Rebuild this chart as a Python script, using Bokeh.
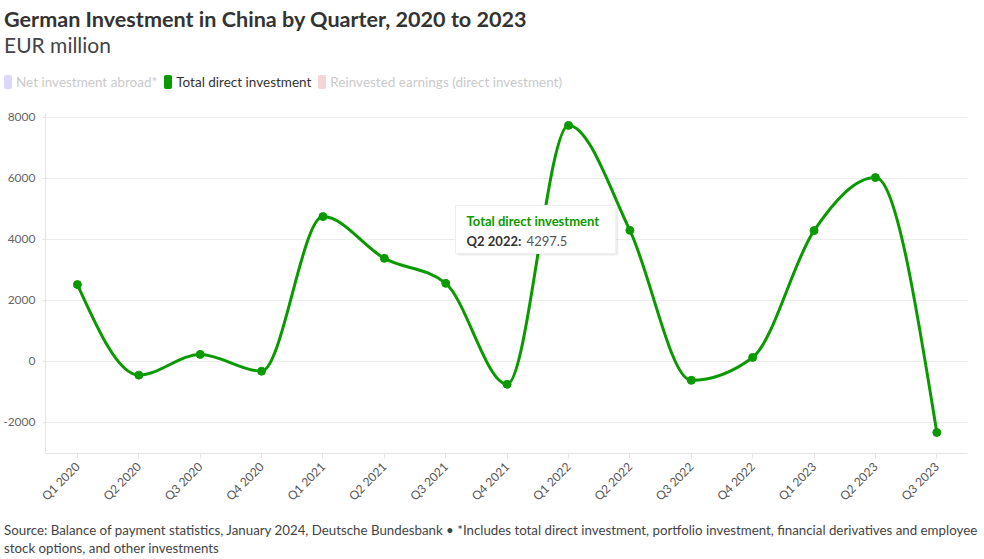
import numpy as np
from bokeh.plotting import figure
from bokeh.models import ColumnDataSource, Range1d, FixedTicker, Div
from bokeh.layouts import column
from bokeh.core.properties import value
from bokeh.embed import file_html
from bokeh.resources import INLINE

# ---------------- data ----------------
quarters = ["Q1 2020", "Q2 2020", "Q3 2020", "Q4 2020",
            "Q1 2021", "Q2 2021", "Q3 2021", "Q4 2021",
            "Q1 2022", "Q2 2022", "Q3 2022", "Q4 2022",
            "Q1 2023", "Q2 2023", "Q3 2023"]
total_direct = [2520, -450, 230, -320,
                4750, 3380, 2560, -750,
                7740, 4297.5, -620, 130,
                4290, 6030, -2330]
y_ticks = [-2000, 0, 2000, 4000, 6000, 8000]
y_tick_labels = ["-2000", "0", "2000", "4000", "6000", "8000"]
legend_labels = ["Net investment abroad*", "Total direct investment",
                 "Reinvested earnings (direct investment)"]
title_text = "German Investment in China by Quarter, 2020 to 2023"
subtitle_text = "EUR million"
footer_line1 = ("Source: Balance of payment statistics, January 2024, Deutsche Bundesbank \u2022 "
                "*Includes total direct investment, portfolio investment, financial derivatives and employee")
footer_line2 = "stock options, and other investments"
tooltip_quarter = "Q2 2022"
tooltip_value = "4297.5"

GREEN = "#0a9a00"
FONT = "Lato"
W = 980

xs = np.arange(len(quarters), dtype=float)
ys = np.array(total_direct, dtype=float)

# monotone-x cubic (like d3.curveMonotoneX) -> bezier control points
n = len(xs)
h = np.diff(xs)
s = np.diff(ys) / h
t = np.zeros(n)
for i in range(1, n - 1):
    s0, s1 = s[i - 1], s[i]
    pp = (s0 * h[i] + s1 * h[i - 1]) / (h[i - 1] + h[i])
    t[i] = (np.sign(s0) + np.sign(s1)) * min(abs(s0), abs(s1), 0.5 * abs(pp))
t[0] = (3 * s[0] - t[1]) / 2
t[-1] = (3 * s[-1] - t[-2]) / 2
bz = ColumnDataSource(dict(
    x0=xs[:-1], y0=ys[:-1], x1=xs[1:], y1=ys[1:],
    cx0=xs[:-1] + h / 3, cy0=ys[:-1] + h * t[:-1] / 3,
    cx1=xs[1:] - h / 3, cy1=ys[1:] - h * t[1:] / 3,
))
pts = ColumnDataSource(dict(x=xs, y=ys))

# ---------------- header (title, subtitle, legend) ----------------
def swatch(color):
    return (f'<span style="display:inline-block;width:8px;height:14px;border-radius:2px;'
            f'background:{color};vertical-align:-2px;margin-right:4px;"></span>')

header_html = (
    f'<div style="font-family:{FONT};color:#333333;padding:6px 0 0 4px;">'
    f'<div style="font-size:21.6px;font-weight:bold;line-height:26px;white-space:nowrap;">{title_text}</div>'
    f'<div style="font-size:21px;line-height:26px;color:#444444;">{subtitle_text}</div>'
    f'<div style="margin-top:16px;font-size:13.5px;line-height:16px;white-space:nowrap;">'
    f'{swatch("#dcd8f8")}<span style="color:#cacaca;">{legend_labels[0]}</span>'
    f'<span style="display:inline-block;width:7px;"></span>'
    f'{swatch(GREEN)}<span style="color:#333333;">{legend_labels[1]}</span>'
    f'<span style="display:inline-block;width:7px;"></span>'
    f'{swatch("#f4d5d5")}<span style="color:#cacaca;">{legend_labels[2]}</span>'
    f'</div></div>'
)
header = Div(text=header_html, width=W, height=96, margin=0)

# ---------------- chart ----------------
p = figure(width=W, height=425, output_backend="svg", toolbar_location=None,
           x_range=Range1d(-0.52, 14.5), y_range=Range1d(-3020, 8130),
           min_border_top=17, min_border_bottom=68, min_border_left=45, min_border_right=13,
           margin=0)
p.outline_line_color = None

p.bezier(x0="x0", y0="y0", x1="x1", y1="y1", cx0="cx0", cy0="cy0", cx1="cx1", cy1="cy1",
         source=bz, line_color=GREEN, line_width=3)
p.scatter("x", "y", source=pts, size=8, fill_color=GREEN, line_color=GREEN)

p.xaxis.ticker = FixedTicker(ticks=list(range(len(quarters))))
p.xaxis.major_label_overrides = {i: q for i, q in enumerate(quarters)}
p.xaxis.major_label_orientation = np.pi / 4
p.xaxis.major_label_text_font = FONT
p.xaxis.major_label_text_font_size = "12px"
p.xaxis.major_label_text_color = "#555555"
p.xaxis.axis_line_color = "#e4e4e4"
p.xaxis.major_tick_line_color = "#e4e4e4"
p.xaxis.major_tick_in = 0
p.xaxis.major_tick_out = 5
p.xaxis.minor_tick_line_color = None
p.xaxis.major_label_standoff = 6

p.yaxis.ticker = FixedTicker(ticks=y_ticks)
p.yaxis.major_label_overrides = {v: lab for v, lab in zip(y_ticks, y_tick_labels)}
p.yaxis.major_label_text_font = FONT
p.yaxis.major_label_text_font_size = "12px"
p.yaxis.major_label_text_color = "#666666"
p.yaxis.axis_line_color = "#e4e4e4"
p.yaxis.major_tick_line_color = "#e4e4e4"
p.yaxis.major_tick_in = 0
p.yaxis.major_tick_out = 3
p.yaxis.minor_tick_line_color = None
p.yaxis.major_label_standoff = 7

p.xgrid.grid_line_color = None
p.ygrid.grid_line_color = "#ececec"

# tooltip box (glyphs)
p.quad(left=[6.20], right=[8.81], top=[5050], bottom=[3470],
       fill_color="#000000", fill_alpha=0.07, line_color=None)
p.quad(left=[6.16], right=[8.77], top=[5115], bottom=[3541],
       fill_color="white", fill_alpha=1.0, line_color="#eeeeee")
p.text(x=[6.34], y=[4590], text=[legend_labels[1]], text_font=value(FONT),
       text_font_size="13px", text_font_style="bold", text_color=GREEN, text_baseline="middle")
p.text(x=[6.34], y=[3935], text=[tooltip_quarter + ":"], text_font=value(FONT),
       text_font_size="13px", text_font_style="bold", text_color="#333333", text_baseline="middle")
p.text(x=[6.34], y=[3935], x_offset=60, text=[tooltip_value], text_font=value(FONT),
       text_font_size="13px", text_color="#555555", text_baseline="middle")

# ---------------- footer ----------------
footer_html = (f'<div style="font-family:{FONT};font-size:13.3px;line-height:18px;color:#444444;'
               f'white-space:nowrap;padding-left:4px;">{footer_line1}<br>{footer_line2}</div>')
footer = Div(text=footer_html, width=W, height=36, margin=0)

layout = column(header, p, footer, spacing=0)
open("out.html", "w").write(file_html(layout, INLINE))
